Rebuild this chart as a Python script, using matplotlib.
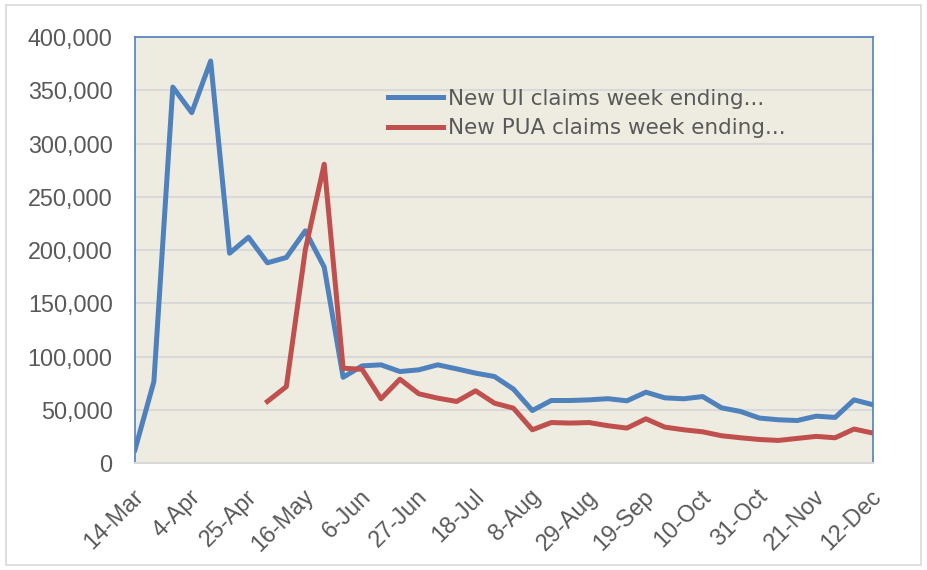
# Weekly new UI vs PUA claims, Mar-Dec

import numpy as np
import matplotlib.pyplot as plt
import matplotlib.transforms as mtransforms
from matplotlib.patches import Rectangle
from matplotlib.ticker import FuncFormatter

weeks = ['14-Mar', '21-Mar', '28-Mar', '4-Apr', '11-Apr', '18-Apr', '25-Apr',
         '2-May', '9-May', '16-May', '23-May', '30-May', '6-Jun', '13-Jun',
         '20-Jun', '27-Jun', '4-Jul', '11-Jul', '18-Jul', '25-Jul', '1-Aug',
         '8-Aug', '15-Aug', '22-Aug', '29-Aug', '5-Sep', '12-Sep', '19-Sep',
         '26-Sep', '3-Oct', '10-Oct', '17-Oct', '24-Oct', '31-Oct', '7-Nov',
         '14-Nov', '21-Nov', '28-Nov', '5-Dec', '12-Dec']

ui_claims = [12500, 76500, 353000, 329000, 377500, 197000, 212000, 188000,
             193000, 218000, 184000, 80500, 91200, 92200, 85900, 87500,
             92200, 88400, 84400, 81200, 69400, 49300, 58700, 58700, 59300,
             60400, 58400, 66500, 61200, 60300, 62400, 51800, 48400, 42200,
             40600, 39900, 44000, 42800, 59300, 54700]

pua_claims = [np.nan, np.nan, np.nan, np.nan, np.nan, np.nan, np.nan, 57800,
              71800, 200000, 280600, 89000, 88000, 60300, 78700, 65000,
              60900, 57800, 67800, 56200, 51500, 31200, 38000, 37500, 38000,
              35000, 32800, 41500, 33700, 31200, 29300, 25600, 23700, 22100,
              21200, 23100, 25000, 23700, 31900, 28100]

ui_label = 'New UI claims week ending...'
pua_label = 'New PUA claims week ending...'

blue = '#4F81BD'
red = '#C0504D'
text_col = '#595959'

plt.rcParams['font.family'] = ['Liberation Sans', 'DejaVu Sans']

fig = plt.figure(figsize=(9.27, 5.7), dpi=100)
fig.patches.append(Rectangle((0.006, 0.009), 0.987, 0.982, transform=fig.transFigure,
                             fill=False, edgecolor='#D9D9D9', linewidth=1.2))

ax = fig.add_axes([0.1456, 0.1877, 0.7961, 0.7473])
ax.set_facecolor('#EEECE1')

x = np.arange(len(weeks))
ax.plot(x, ui_claims, color=blue, linewidth=3.6, label=ui_label, solid_joinstyle='round')
ax.plot(x, pua_claims, color=red, linewidth=3.6, label=pua_label, solid_joinstyle='round')

ax.set_xlim(0, len(weeks) - 1)
ax.set_ylim(0, 400000)
ax.set_yticks(np.arange(0, 400001, 50000))
ax.yaxis.set_major_formatter(FuncFormatter(lambda v, p: f'{int(v):,}'))
ax.yaxis.grid(True, color='#D9D9D9', linewidth=1.5)
ax.set_axisbelow(True)

tick_idx = x[::3]
ax.set_xticks(tick_idx)
ax.set_xticklabels([weeks[i] for i in tick_idx], rotation=45, ha='right',
                   va='center', rotation_mode='anchor')
ax.tick_params(axis='both', length=0, labelsize=16.8, labelcolor=text_col)
ax.tick_params(axis='y', pad=16)
ax.tick_params(axis='x', pad=16)

# nudge the rotated date labels right/down like Excel places them
shift = mtransforms.ScaledTranslation(5 / 100, -8 / 100, fig.dpi_scale_trans)
for lbl in ax.get_xticklabels():
    lbl.set_transform(lbl.get_transform() + shift)

for side in ['left', 'top', 'right']:
    ax.spines[side].set_color(blue)
    ax.spines[side].set_linewidth(1.2)
ax.spines['bottom'].set_color('#D9D9D9')
ax.spines['bottom'].set_linewidth(1.5)

leg = ax.legend(loc='upper left', bbox_to_anchor=(0.343, 0.878), frameon=False,
                prop={'family': 'DejaVu Sans', 'size': 15.5}, handlelength=2.55,
                handletextpad=0.25, labelspacing=0.42, borderaxespad=0, borderpad=0)
for t in leg.get_texts():
    t.set_color(text_col)

fig.savefig('out.png', dpi=100)
